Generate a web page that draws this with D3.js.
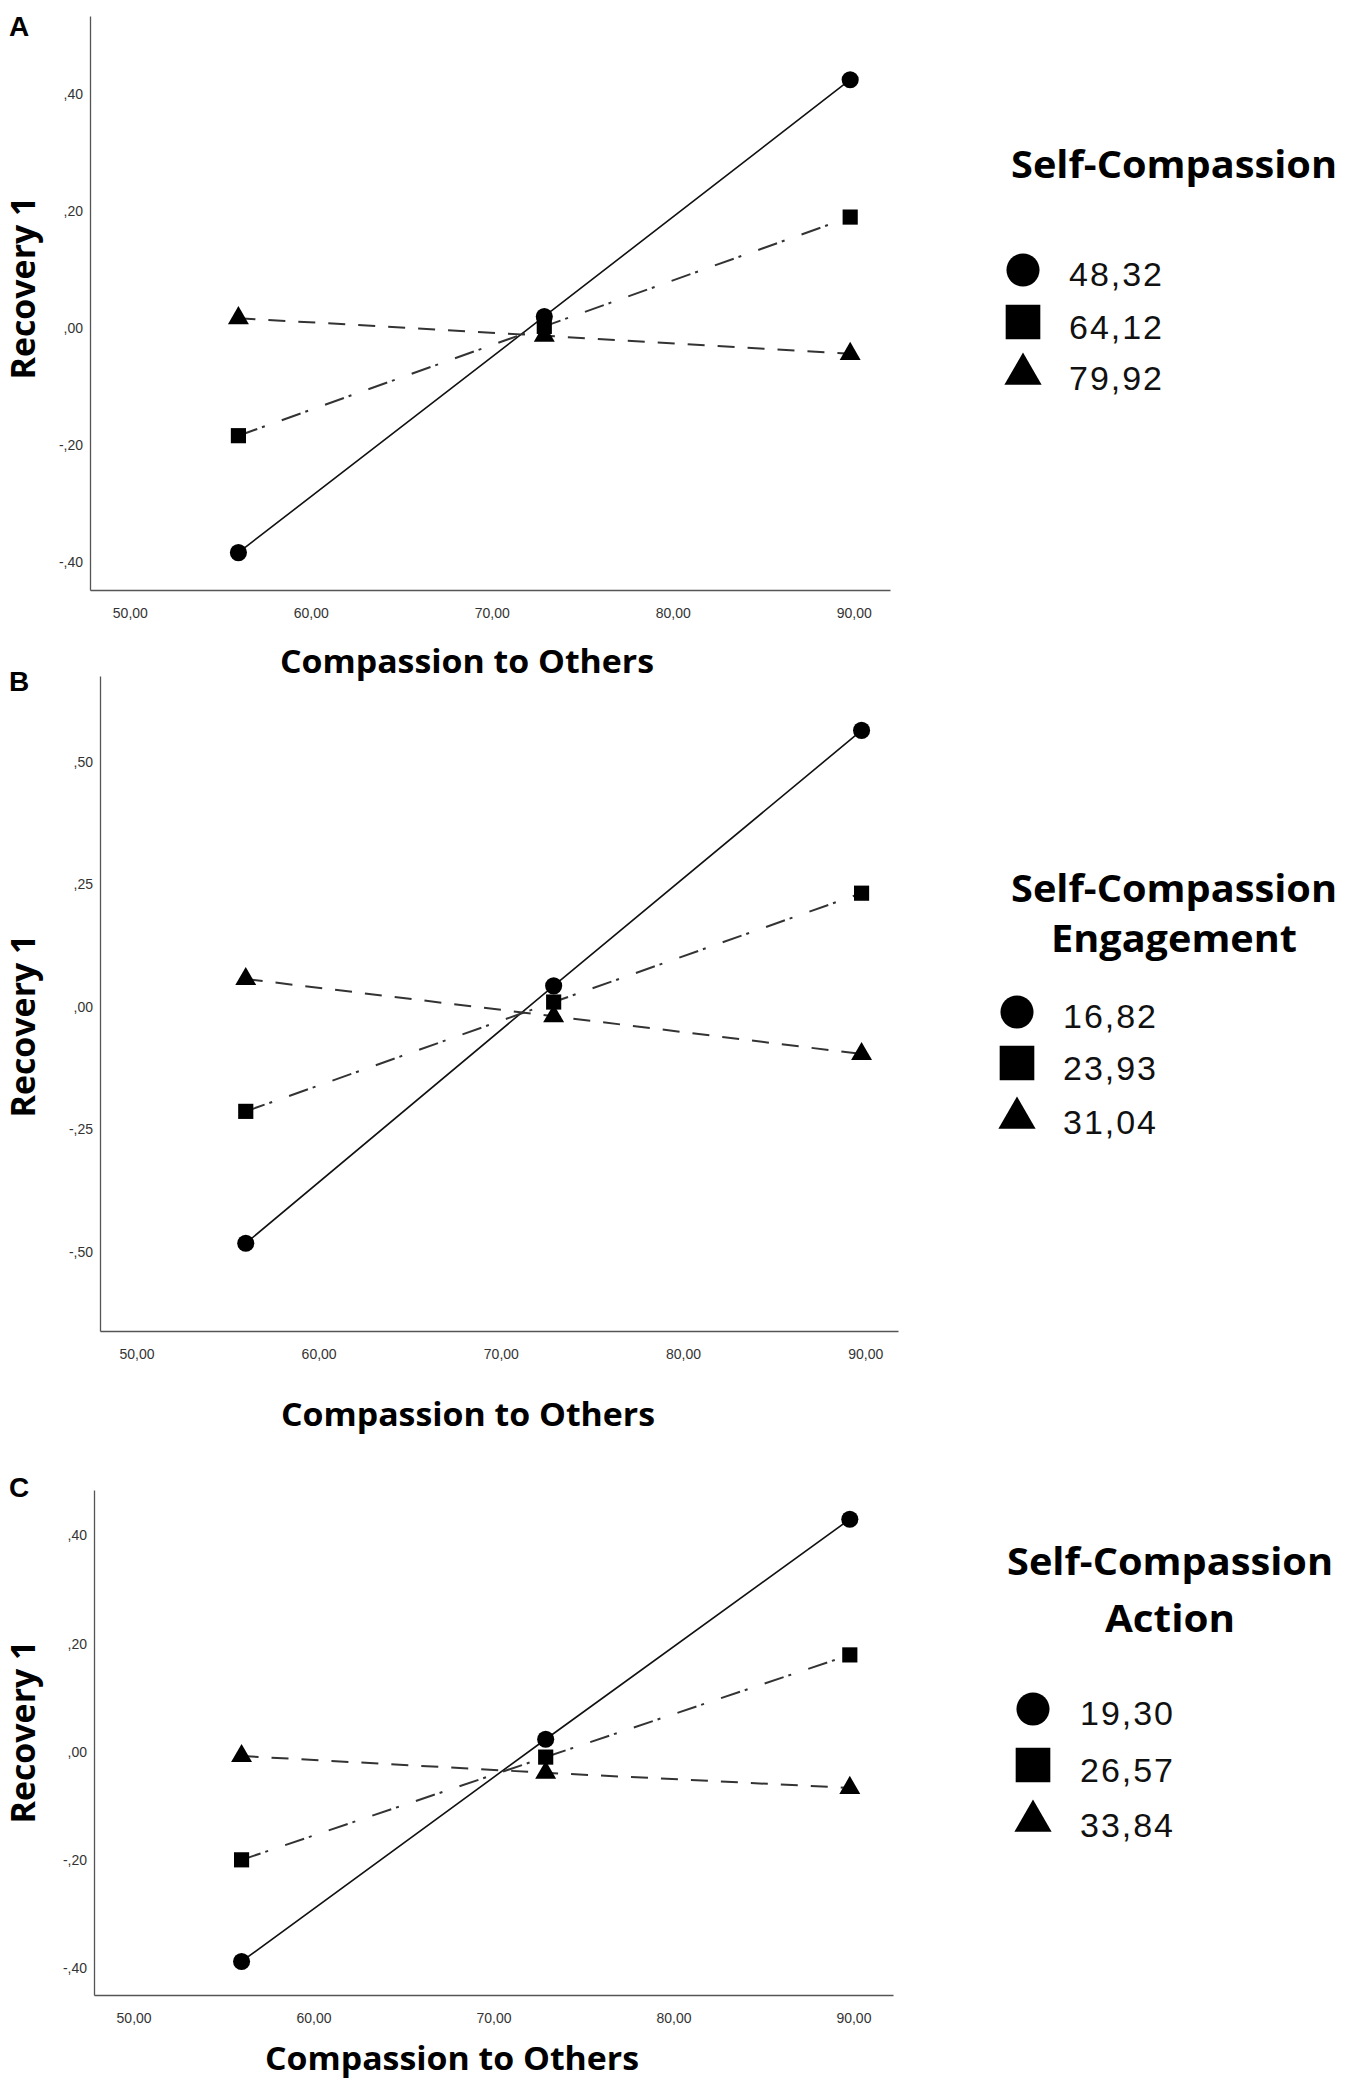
<!DOCTYPE html>
<html>
<head>
<meta charset="utf-8">
<script src="https://cdn.jsdelivr.net/npm/d3@7"></script>
<style>
  body { margin: 0; background: #fff; }
  svg { display: block; }
</style>
</head>
<body>
<div id="chart"></div>
<script>
// values
const panelLetters = ['A', 'B', 'C'];
const xCategories = [56.0, 72.9, 89.8];          // Compassion to Others (-1SD, mean, +1SD)
const xTicks = [50, 60, 70, 80, 90];

const yTicksA = [-0.4, -0.2, 0, 0.2, 0.4];
const yTicksB = [-0.5, -0.25, 0, 0.25, 0.5];
const yTicksC = [-0.4, -0.2, 0, 0.2, 0.4];

const circleA = [-0.384, 0.020, 0.425];
const squareA = [-0.184, 0.003, 0.190];
const triangleA = [0.017, -0.013, -0.044];

const circleB = [-0.482, 0.043, 0.564];
const squareB = [-0.213, 0.010, 0.232];
const triangleB = [0.057, -0.019, -0.096];

const circleC = [-0.388, 0.023, 0.430];
const squareC = [-0.200, -0.010, 0.179];
const triangleC = [-0.008, -0.039, -0.067];

const legendTitles = [['Self-Compassion'], ['Self-Compassion', 'Engagement'], ['Self-Compassion', 'Action']];
const legendLabels = [['48,32', '64,12', '79,92'], ['16,82', '23,93', '31,04'], ['19,30', '26,57', '33,84']];

const W = 1350, H = 2089;
const svg = d3.select('#chart').append('svg').attr('width', W).attr('height', H);

const fmtY = d => {
  let s = Math.abs(d).toFixed(2).replace('.', ',').replace(/^0/, '');
  return (d < 0 ? '-' : '') + s;
};
const fmtX = d => d.toFixed(2).replace('.', ',');

const symbols = [d3.symbolCircle, d3.symbolSquare, d3.symbolTriangle];
const lineStyles = [
  { stroke: '#111', width: 1.6, dash: null },
  { stroke: '#333', width: 2, dash: '20,5,3,18' },
  { stroke: '#333', width: 2, dash: '17,13' }
];
const titleWidths = { 'Self-Compassion': 326, 'Engagement': 246, 'Action': 130 };
const legendSymSize = [860, 1200, 600];
const legendBaseShift = [16, 17, 21];

// layout per panel (pixel boxes + axis domains)
const panels = [
  { left: 90, right: 890, top: 16, bottom: 590, xd: [47.8, 92.0], yd: [-0.448, 0.534],
    ticks: yTicksA, series: [circleA, squareA, triangleA],
    letterY: 36, xlabX: 467, xlabY: 673, recY: 288,
    leg: { cx: 1174, titleY: [178], sx: 1023, sy: [270, 322, 369], tx: 1069 } },
  { left: 100, right: 898, top: 676, bottom: 1331, xd: [48.0, 91.8], yd: [-0.661, 0.675],
    ticks: yTicksB, series: [circleB, squareB, triangleB],
    letterY: 691, xlabX: 468, xlabY: 1426, recY: 1026,
    leg: { cx: 1174, titleY: [902, 952], sx: 1017, sy: [1012, 1063, 1113], tx: 1063 } },
  { left: 94, right: 893, top: 1490, bottom: 1995, xd: [47.8, 92.2], yd: [-0.45, 0.484],
    ticks: yTicksC, series: [circleC, squareC, triangleC],
    letterY: 1497, xlabX: 452, xlabY: 2070, recY: 1732,
    leg: { cx: 1170, titleY: [1575, 1632], sx: 1033, sy: [1709, 1765, 1816], tx: 1080 } }
];

panels.forEach((p, i) => {
  const x = d3.scaleLinear().domain(p.xd).range([p.left, p.right]);
  const y = d3.scaleLinear().domain(p.yd).range([p.bottom, p.top]);
  const g = svg.append('g');

  // axes (SPSS style: no tick marks, only lines and labels)
  const ax = g.append('g').attr('transform', `translate(0,${p.bottom})`)
    .call(d3.axisBottom(x).tickValues(xTicks).tickFormat(fmtX).tickSize(0).tickPadding(18));
  ax.select('.domain').attr('stroke', '#555').attr('stroke-width', 1.3);
  ax.selectAll('text').attr('font-family', 'Liberation Sans, Arial')
    .attr('font-size', 14).attr('fill', '#333');

  const ay = g.append('g').attr('transform', `translate(${p.left},0)`)
    .call(d3.axisLeft(y).tickValues(p.ticks).tickFormat(fmtY).tickSize(0).tickPadding(7));
  ay.select('.domain').attr('stroke', '#555').attr('stroke-width', 1.3);
  ay.selectAll('text').attr('font-family', 'Liberation Sans, Arial')
    .attr('font-size', 14).attr('fill', '#333');

  // lines
  p.series.forEach((vals, k) => {
    const pts = vals.map((v, j) => [xCategories[j], v]);
    const st = lineStyles[k];
    g.append('path')
      .attr('d', d3.line().x(d => x(d[0])).y(d => y(d[1]))(pts))
      .attr('fill', 'none').attr('stroke', st.stroke).attr('stroke-width', st.width)
      .attr('stroke-dasharray', st.dash);
  });
  // markers on top
  p.series.forEach((vals, k) => {
    const sym = d3.symbol().type(symbols[k]).size(k === 2 ? 190 : 230);
    g.selectAll(null).data(vals).join('path')
      .attr('transform', (v, j) => `translate(${x(xCategories[j])},${y(v)})`)
      .attr('d', sym).attr('fill', '#000');
  });

  // panel letter
  g.append('text').attr('x', 9).attr('y', p.letterY)
    .attr('font-family', 'Liberation Sans, Arial').attr('font-weight', 'bold').attr('font-size', 28)
    .text(panelLetters[i]);

  // axis titles
  g.append('text').attr('x', p.xlabX).attr('y', p.xlabY)
    .attr('text-anchor', 'middle').attr('font-family', 'Open Sans').attr('font-weight', 'bold')
    .attr('font-size', 32).attr('textLength', 374).attr('lengthAdjust', 'spacingAndGlyphs')
    .text('Compassion to Others');
  g.append('text').attr('transform', `translate(35,${p.recY}) rotate(-90)`)
    .attr('text-anchor', 'middle').attr('font-family', 'Open Sans').attr('font-weight', 'bold')
    .attr('font-size', 34).attr('textLength', 183).attr('lengthAdjust', 'spacingAndGlyphs')
    .text('Recovery 1');

  // legend
  const L = p.leg;
  legendTitles[i].forEach((t, r) => {
    g.append('text').attr('x', L.cx).attr('y', L.titleY[r]).attr('text-anchor', 'middle')
      .attr('font-family', 'Open Sans').attr('font-weight', 'bold').attr('font-size', 38)
      .attr('textLength', titleWidths[t])
      .attr('lengthAdjust', 'spacingAndGlyphs')
      .text(t);
  });
  legendLabels[i].forEach((t, k) => {
    const sym = d3.symbol().type(symbols[k]).size(legendSymSize[k]);
    // triangle: shift so its bounding box (not centroid) sits on the row centre
    const dy = k === 2 ? 5 : 0;
    g.append('path').attr('transform', `translate(${L.sx},${L.sy[k] + dy})`).attr('d', sym).attr('fill', '#000');
    g.append('text').attr('x', L.tx).attr('y', L.sy[k] + legendBaseShift[k])
      .attr('font-family', 'Liberation Sans, Arial').attr('font-size', 34).attr('fill', '#111')
      .attr('textLength', 93).attr('lengthAdjust', 'spacing')
      .text(t);
  });
});
</script>
</body>
</html>
